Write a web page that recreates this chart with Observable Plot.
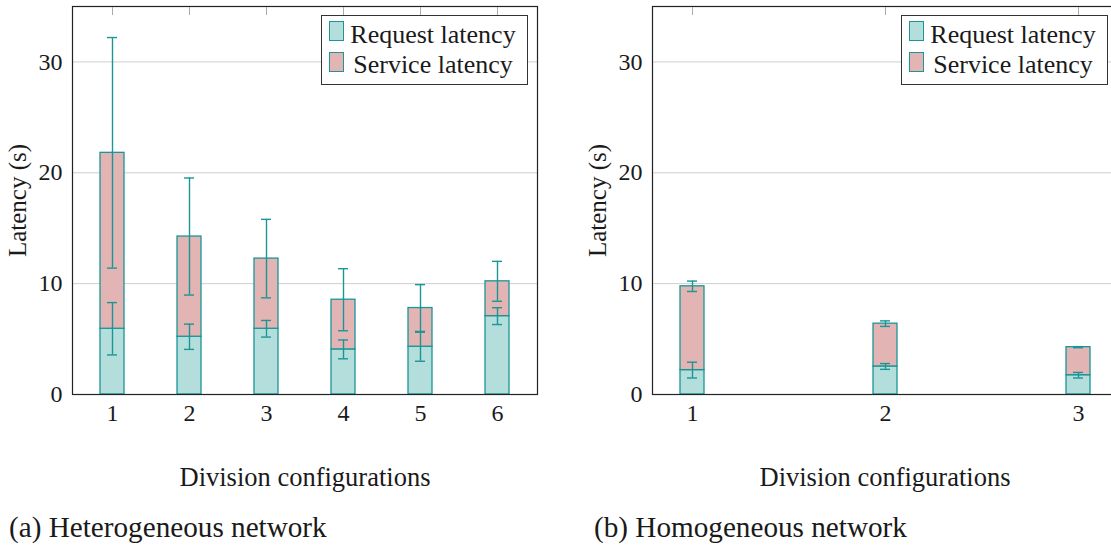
<!DOCTYPE html>
<html><head><meta charset="utf-8">
<script src="https://cdn.jsdelivr.net/npm/d3@7"></script>
<script src="https://cdn.jsdelivr.net/npm/@observablehq/plot@0.6"></script>
<style>
html,body{margin:0;padding:0;background:#fff;overflow:hidden;width:1111px;height:547px;}
#wrap{position:relative;width:1111px;height:547px;font-family:'Liberation Serif',Tinos,'Times New Roman',serif;color:#1a1a1a;overflow:hidden;}
.panel{position:absolute;top:0;width:560px;height:500px;}
.panel svg{max-width:none !important;}
.panel svg [aria-label="x-axis label"]{font-size:26.5px;}
.panel svg [aria-label="y-axis label"]{font-size:25px;}
.legend{position:absolute;top:14.5px;width:207px;height:70px;box-sizing:border-box;border:1px solid #333;background:#fff;}
.sw{position:absolute;left:7px;width:15px;height:20px;box-sizing:border-box;border:1.3px solid #1a9696;}
.lt{position:absolute;left:16px;width:190px;text-align:center;font-size:26px;line-height:30px;white-space:nowrap;}
.cap{position:absolute;top:512px;font-size:29.2px;line-height:30px;white-space:nowrap;}
</style>
</head><body>
<div id="wrap"></div>
<script>
// ---- data ----
const configsA = [1, 2, 3, 4, 5, 6];
const requestA = [5.93, 5.21, 5.93, 4.07, 4.31, 7.07];
const requestErrA = [2.36, 1.14, 0.75, 0.85, 1.31, 0.76];
const serviceA = [15.87, 9.04, 6.33, 4.48, 3.49, 3.14];
const serviceErrA = [10.4, 5.28, 3.54, 2.8, 2.11, 1.8];

const configsB = [1, 2, 3];
const requestB = [2.2, 2.53, 1.74];
const requestErrB = [0.71, 0.26, 0.25];
const serviceB = [7.56, 3.86, 2.53];
const serviceErrB = [0.47, 0.25, 0.05];

const yTicks = [0, 10, 20, 30];
const seriesNames = ["Request latency", "Service latency"];
const xLabel = "Division configurations";
const yLabel = "Latency (s)";
const captions = ["(a) Heterogeneous network", "(b) Homogeneous network"];

const requestFill = "#b3dedc";
const serviceFill = "#e3b4b4";
const teal = "#1a9696";
const serifStack = "'Liberation Serif', Tinos, 'Times New Roman', serif";

function panel(configs, req, reqErr, svc, svcErr, paddingInner, paddingOuter) {
  const rows = configs.map((c, i) => ({
    c, req: req[i], reqErr: reqErr[i], total: req[i] + svc[i], svcErr: svcErr[i]
  }));
  const cap = {x: "c", stroke: teal, strokeWidth: 1.4, insetLeft: 7, insetRight: 7};
  return Plot.plot({
    width: 560, height: 500,
    marginLeft: 72, marginRight: 23, marginTop: 6, marginBottom: 106,
    style: {fontFamily: serifStack, fontSize: "24px", color: "#1a1a1a", background: "transparent", overflow: "visible", maxWidth: "none"},
    x: {type: "band", domain: configs, paddingInner, paddingOuter, align: 0.5},
    y: {domain: [0, 35]},
    marks: [
      Plot.gridY(yTicks.filter(t => t > 0), {stroke: "#cfcfcf", strokeOpacity: 1, strokeWidth: 1}),
      Plot.barY(rows, {x: "c", y1: 0, y2: "req", fill: requestFill, stroke: teal, strokeWidth: 1.3}),
      Plot.barY(rows, {x: "c", y1: "req", y2: "total", fill: serviceFill, stroke: teal, strokeWidth: 1.3}),
      Plot.ruleX(rows, {x: "c", y1: d => d.req - d.reqErr, y2: d => d.req + d.reqErr, stroke: teal, strokeWidth: 1.4}),
      Plot.tickY(rows, {...cap, y: d => d.req - d.reqErr}),
      Plot.tickY(rows, {...cap, y: d => d.req + d.reqErr}),
      Plot.ruleX(rows, {x: "c", y1: d => d.total - d.svcErr, y2: d => d.total + d.svcErr, stroke: teal, strokeWidth: 1.4}),
      Plot.tickY(rows, {...cap, y: d => d.total - d.svcErr}),
      Plot.tickY(rows, {...cap, y: d => d.total + d.svcErr}),
      Plot.frame({stroke: "#222", strokeWidth: 1.2}),
      Plot.axisX({anchor: "top", tickSize: -8, tickFormat: () => "", stroke: "#aaa", label: null}),
      Plot.axisX({anchor: "bottom", tickSize: 0, tickPadding: 9, label: xLabel, labelAnchor: "center", labelOffset: 91}),
      Plot.axisY({ticks: yTicks, tickSize: 0, tickPadding: 10, label: yLabel, labelAnchor: "center", labelOffset: 64, labelArrow: "none"})
    ]
  });
}

function legend(left) {
  const d = document.createElement("div");
  d.className = "legend";
  d.style.left = left + "px";
  const fills = [requestFill, serviceFill];
  seriesNames.forEach((name, i) => {
    const s = document.createElement("div");
    s.className = "sw";
    s.style.top = (5 + i * 31) + "px";
    s.style.background = fills[i];
    d.appendChild(s);
    const t = document.createElement("div");
    t.className = "lt";
    t.style.top = (4 + i * 30) + "px";
    t.textContent = name;
    d.appendChild(t);
  });
  return d;
}

const wrap = document.getElementById("wrap");
const pA = panel(configsA, requestA, requestErrA, serviceA, serviceErrA, 0.69, 0.345);
const pB = panel(configsB, requestB, requestErrB, serviceB, serviceErrB, 0.8765, 0.139);
const dA = document.createElement("div"); dA.className = "panel"; dA.style.left = "0px"; dA.appendChild(pA);
const dB = document.createElement("div"); dB.className = "panel"; dB.style.left = "579.5px"; dB.appendChild(pB);
wrap.appendChild(dA); wrap.appendChild(dB);
wrap.appendChild(legend(321));
wrap.appendChild(legend(901));
captions.forEach((c, i) => {
  const e = document.createElement("div");
  e.className = "cap";
  e.style.left = (i === 0 ? 9 : 594) + "px";
  e.textContent = c;
  wrap.appendChild(e);
});
</script>
</body></html>
